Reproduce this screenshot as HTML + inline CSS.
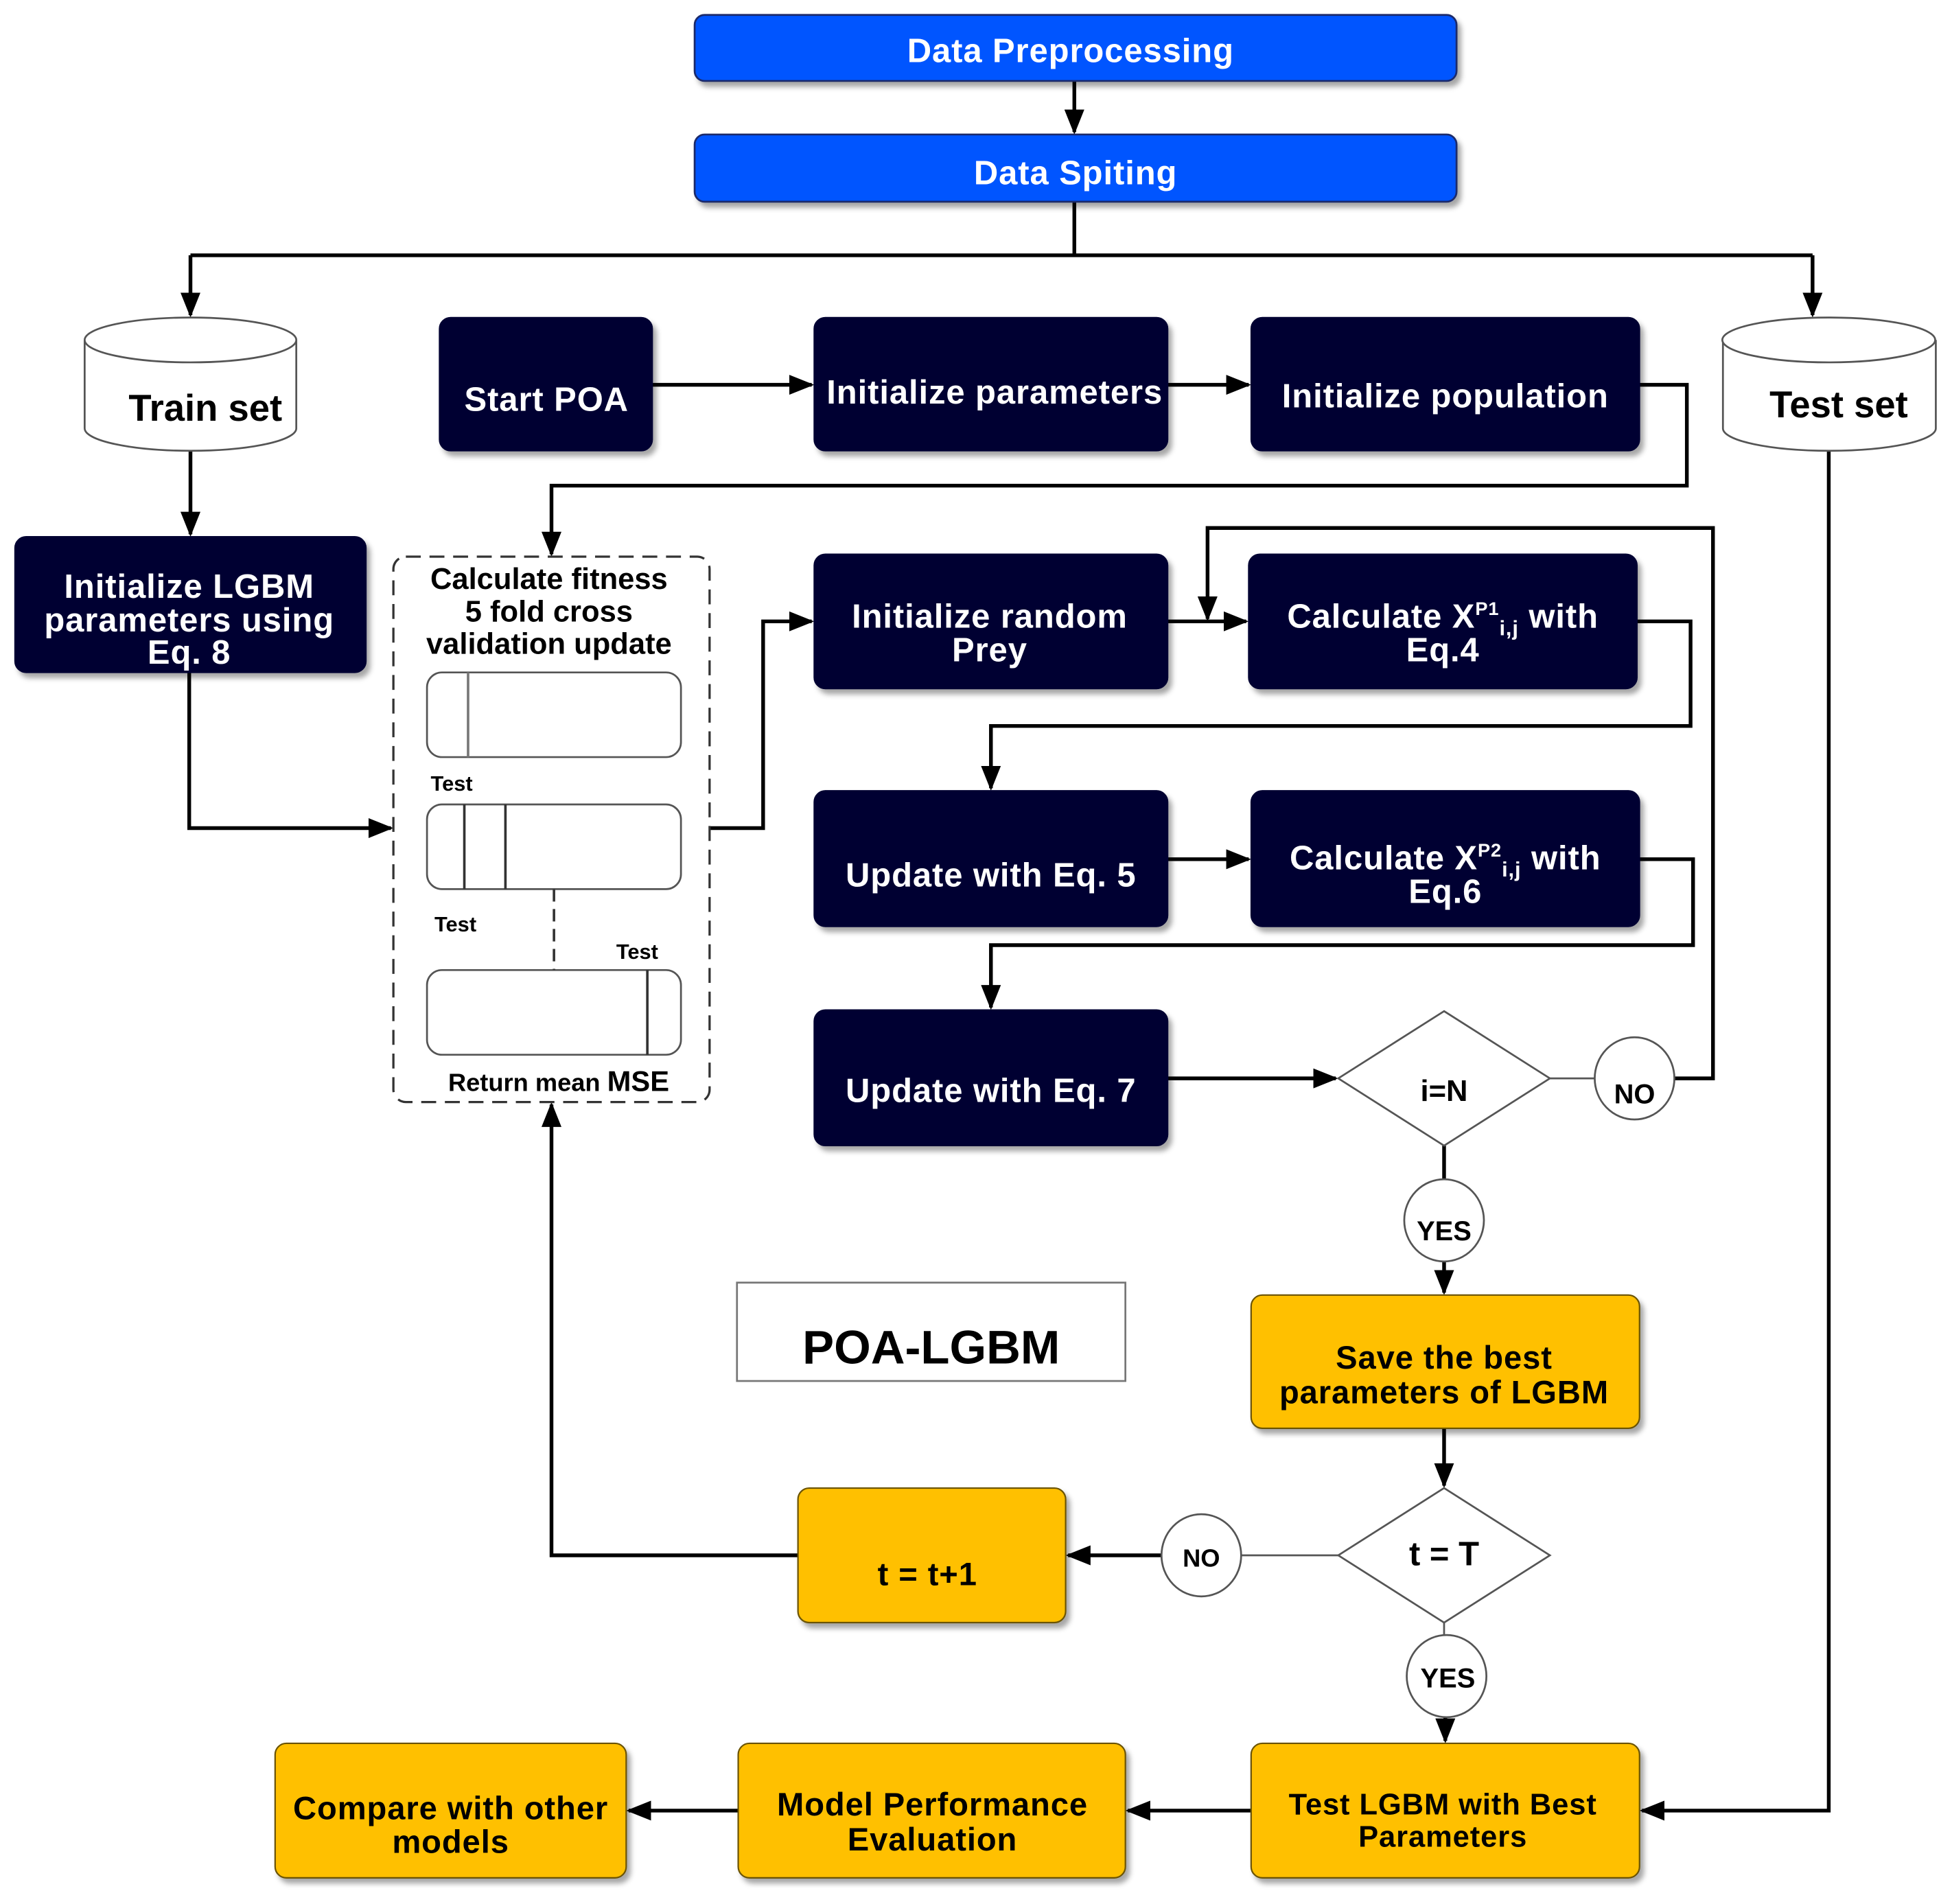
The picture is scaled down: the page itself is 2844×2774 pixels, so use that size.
<!DOCTYPE html>
<html><head><meta charset="utf-8"><style>
html,body{margin:0;padding:0;background:#fff}
svg{display:block}
text{font-family:"Liberation Sans",Arial,sans-serif;font-weight:bold}
.w{fill:#fff;font-size:27px;letter-spacing:0.5px}
.k{fill:#000}
.o{letter-spacing:0.5px}
</style></head><body>
<svg width="2844" height="2774" viewBox="0 0 1568 1529" preserveAspectRatio="none" xmlns="http://www.w3.org/2000/svg">
<defs>
<marker id="a" markerWidth="20" markerHeight="16" refX="18" refY="8" orient="auto" markerUnits="userSpaceOnUse">
<path d="M0,0 L20,8 L0,16 z" fill="#000"/></marker>
<filter id="s" x="-5%" y="-5%" width="115%" height="120%"><feDropShadow dx="3" dy="4" stdDeviation="2" flood-color="#000" flood-opacity="0.35"/></filter>
</defs>
<g fill="none" stroke="#000" stroke-width="3">
<path d="M863,65 V106" marker-end="url(#a)"/>
<path d="M863,162 V205 M153,205 H1456"/>
<path d="M153,205 V253" marker-end="url(#a)"/>
<path d="M1456,205 V253" marker-end="url(#a)"/>
<path d="M153,362 V429" marker-end="url(#a)"/>
<path d="M524,309 H652" marker-end="url(#a)"/>
<path d="M938,309 H1003" marker-end="url(#a)"/>
<path d="M1317,309 H1355 V390 H443 V445" marker-end="url(#a)"/>
<path d="M152,540 V665 H314" marker-end="url(#a)"/>
<path d="M570,665 H613 V499 H652" marker-end="url(#a)"/>
<path d="M938,499 H1001" marker-end="url(#a)"/>
<path d="M1345,866 H1376 V424 H970 V497" marker-end="url(#a)"/>
<path d="M1315,499 H1358 V583 H796 V633" marker-end="url(#a)"/>
<path d="M938,690 H1003" marker-end="url(#a)"/>
<path d="M1317,690 H1360 V759 H796 V809" marker-end="url(#a)"/>
<path d="M938,866 H1073" marker-end="url(#a)"/>
<path d="M1160,920 V948"/>
<path d="M1160,1012 V1038" marker-end="url(#a)"/>
<path d="M1160,1147 V1193" marker-end="url(#a)"/>
<path d="M933,1249 H858" marker-end="url(#a)"/>
<path d="M641,1249 H443 V887" marker-end="url(#a)"/>
<path d="M1161,1378 V1398" marker-end="url(#a)"/>
<path d="M1469,362 V1454 H1319" marker-end="url(#a)"/>
<path d="M1005,1454 H906" marker-end="url(#a)"/>
<path d="M593,1454 H505" marker-end="url(#a)"/>
</g>
<g fill="none" stroke="#555" stroke-width="1.5">
<path d="M1245,866 H1282"/>
<path d="M1075,1249 H997"/>
<path d="M1160,1303 V1314"/>
</g>
<g filter="url(#s)" fill="#0055ff" stroke="#1a2a6a" stroke-width="1.5">
<rect x="558" y="12" width="612" height="53" rx="8"/>
<rect x="558" y="108" width="612" height="54" rx="8"/>
</g>
<text class="w" x="860" y="50" text-anchor="middle" font-size="27">Data Preprocessing</text>
<text class="w" x="864" y="148" text-anchor="middle" font-size="27">Data Spiting</text>
<g fill="#fff" stroke="#555" stroke-width="1.5">
<path d="M68,273 V344 A85,18 0 0 0 238,344 V273"/>
<ellipse cx="153" cy="273" rx="85" ry="18"/>
<path d="M1384,273 V344 A85.5,18 0 0 0 1555,344 V273"/>
<ellipse cx="1469" cy="273" rx="85.5" ry="18"/>
</g>
<text x="165" y="338" text-anchor="middle" font-size="30" class="k">Train set</text>
<text x="1477" y="335" text-anchor="middle" font-size="30" class="k">Test set</text>
<g filter="url(#s)" fill="#000033" stroke="#000033">
<rect x="353" y="255" width="171" height="107" rx="9"/>
<rect x="654" y="255" width="284" height="107" rx="9"/>
<rect x="1005" y="255" width="312" height="107" rx="9"/>
<rect x="12" y="431" width="282" height="109" rx="9"/>
<rect x="654" y="445" width="284" height="108" rx="9"/>
<rect x="1003" y="445" width="312" height="108" rx="9"/>
<rect x="654" y="635" width="284" height="109" rx="9"/>
<rect x="1005" y="635" width="312" height="109" rx="9"/>
<rect x="654" y="811" width="284" height="109" rx="9"/>
</g>
<g class="w" text-anchor="middle">
<text x="439" y="330">Start POA</text>
<text x="799" y="324">Initialize parameters</text>
<text x="1161" y="327">Initialize population</text>
<text x="152" y="480">Initialize LGBM</text>
<text x="152" y="507">parameters using</text>
<text x="152" y="533">Eq. 8</text>
<text x="795" y="504">Initialize random</text>
<text x="795" y="531">Prey</text>
<text x="1159" y="504">Calculate X<tspan font-size="15" dy="-10">P1</tspan><tspan font-size="17" dy="16">i,j</tspan><tspan dy="-6"> with</tspan></text>
<text x="1159" y="531">Eq.4</text>
<text x="796" y="712">Update with Eq. 5</text>
<text x="1161" y="698">Calculate X<tspan font-size="15" dy="-10">P2</tspan><tspan font-size="17" dy="16">i,j</tspan><tspan dy="-6"> with</tspan></text>
<text x="1161" y="725">Eq.6</text>
<text x="796" y="885">Update with Eq. 7</text>
</g>
<rect x="316" y="447" width="254" height="438" rx="10" fill="#fff" stroke="#333" stroke-width="1.8" stroke-dasharray="12,7"/>
<g class="k" text-anchor="middle" font-size="24">
<text x="441" y="473">Calculate fitness</text>
<text x="441" y="499">5 fold cross</text>
<text x="441" y="525">validation update</text>
</g>
<g fill="#fff" stroke="#555" stroke-width="1.5">
<rect x="343" y="540" width="204" height="68" rx="12"/>
<rect x="343" y="646" width="204" height="68" rx="12"/>
<rect x="343" y="779" width="204" height="68" rx="12"/>
</g>
<g stroke="#333" stroke-width="2">
<path d="M376,540 V608" stroke="#777"/>
<path d="M373,646 V714 M406,646 V714 M520,779 V847"/>
<path d="M445,714 V779" stroke-dasharray="10,6"/>
</g>
<g class="k" font-size="17">
<text x="346" y="635">Test</text>
<text x="349" y="748">Test</text>
<text x="495" y="770">Test</text>
<text x="360" y="876" font-size="20">Return mean <tspan font-size="23">MSE</tspan></text>
</g>
<g fill="#fff" stroke="#555" stroke-width="1.5">
<path d="M1160,812 L1245,866 L1160,920 L1075,866 z"/>
<path d="M1160,1195 L1245,1249 L1160,1303 L1075,1249 z"/>
<ellipse cx="1313" cy="866" rx="32" ry="33"/>
<ellipse cx="1160" cy="980" rx="32" ry="33"/>
<ellipse cx="965" cy="1249" rx="32" ry="33"/>
<ellipse cx="1162" cy="1346" rx="32" ry="33"/>
<rect x="592" y="1030" width="312" height="79" stroke="#777"/>
</g>
<g class="k" text-anchor="middle">
<text x="1160" y="884" font-size="24">i=N</text>
<text x="1313" y="886" font-size="22">NO</text>
<text x="1160" y="996" font-size="22">YES</text>
<text x="965" y="1258" font-size="20" font-weight="normal">NO</text>
<text x="1163" y="1355" font-size="22">YES</text>
<text x="1160" y="1257" font-size="27">t = T</text>
<text x="748" y="1095" font-size="38">POA-LGBM</text>
</g>
<g filter="url(#s)" fill="#ffc000" stroke="#6a5200" stroke-width="1.2">
<rect x="1005" y="1040" width="312" height="107" rx="9"/>
<rect x="641" y="1195" width="215" height="108" rx="9"/>
<rect x="1005" y="1400" width="312" height="108" rx="9"/>
<rect x="593" y="1400" width="311" height="108" rx="9"/>
<rect x="221" y="1400" width="282" height="108" rx="9"/>
</g>
<g class="k o" text-anchor="middle" font-size="26">
<text x="1160" y="1099">Save the best</text>
<text x="1160" y="1127">parameters of LGBM</text>
<text x="745" y="1273">t = t+1</text>
<text x="1159" y="1457" font-size="24">Test LGBM with Best</text>
<text x="1159" y="1483" font-size="24">Parameters</text>
<text x="749" y="1458">Model Performance</text>
<text x="749" y="1486">Evaluation</text>
<text x="362" y="1461">Compare with other</text>
<text x="362" y="1488">models</text>
</g>
</svg>
</body></html>
